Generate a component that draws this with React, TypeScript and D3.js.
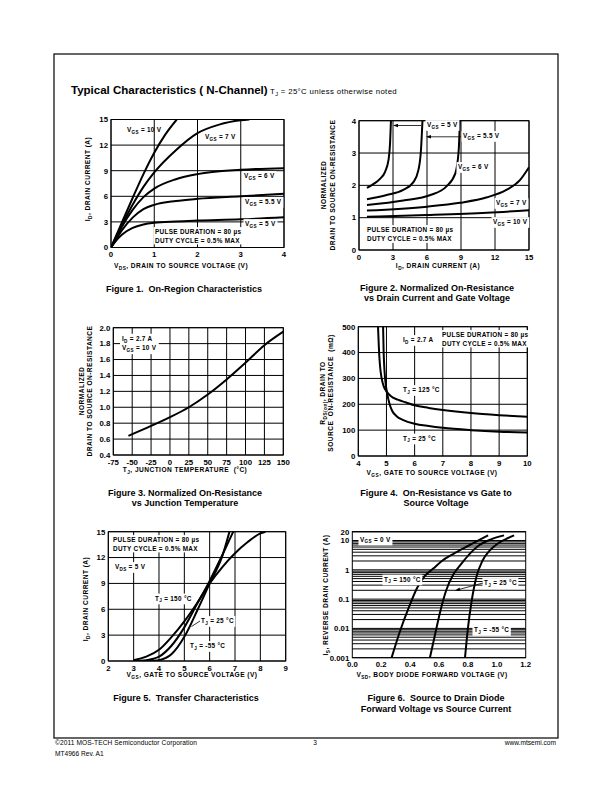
import React, { useLayoutEffect, useRef, useState } from "react";
import * as d3 from "d3";

type P = [number, number];

// ---------- Figure 1 data: On-Region Characteristics ----------
const f1XTicks = [0, 1, 2, 3, 4];
const f1YTicks = [0, 3, 6, 9, 12, 15];
const f1Vgs10: P[] = [[0, 0], [0.25, 2.9], [0.5, 5.8], [0.75, 8.6], [1, 11.1], [1.25, 13.2], [1.52, 15]];
const f1Vgs7: P[] = [[0, 0], [0.25, 2.6], [0.5, 5.0], [0.75, 7.1], [1, 8.8], [1.5, 11.4], [2, 13.4], [2.5, 14.4], [3, 14.9], [3.2, 15]];
const f1Vgs6: P[] = [[0, 0], [0.1, 0.9], [0.25, 2.4], [0.5, 4.4], [0.75, 5.9], [1, 6.9], [1.5, 8.0], [2, 8.6], [3, 9.1], [4, 9.3]];
const f1Vgs55: P[] = [[0, 0], [0.1, 0.8], [0.25, 2.0], [0.5, 3.5], [0.75, 4.5], [1, 5.0], [1.5, 5.45], [2, 5.7], [3, 6.0], [4, 6.3]];
const f1Vgs5: P[] = [[0, 0], [0.1, 0.7], [0.25, 1.5], [0.5, 2.3], [0.75, 2.7], [1, 2.9], [1.5, 3.05], [2, 3.15], [3, 3.3], [4, 3.55]];

// ---------- Figure 2 data: Normalized On-Resistance vs Drain Current ----------
const f2XTicks = [0, 3, 6, 9, 12, 15];
const f2YTicks = [0, 1, 2, 3, 4];
const f2Vgs5: P[] = [[0.7, 1.92], [1.26, 2.04], [1.85, 2.2], [2.3, 2.42], [2.6, 2.78], [2.74, 3.3], [2.82, 4]];
const f2Vgs55: P[] = [[0.7, 1.57], [2.44, 1.7], [3.9, 1.86], [4.8, 2.1], [5.24, 2.47], [5.47, 3.1], [5.6, 4]];
const f2Vgs6: P[] = [[0.7, 1.39], [3.9, 1.53], [6.3, 1.7], [7.7, 1.96], [8.5, 2.37], [8.8, 3.1], [8.9, 4]];
const f2Vgs7: P[] = [[0.7, 1.22], [6, 1.34], [8.9, 1.46], [11.3, 1.63], [13, 1.86], [14.2, 2.16], [15, 2.56]];
const f2Vgs10: P[] = [[0.7, 1.03], [6, 1.08], [11.3, 1.15], [15, 1.23]];

// ---------- Figure 3 data: Normalized On-Resistance vs Junction Temperature ----------
const f3XTicks = [-75, -50, -25, 0, 25, 50, 75, 100, 125, 150];
const f3YTicks = [0.4, 0.6, 0.8, 1.0, 1.2, 1.4, 1.6, 1.8, 2.0];
const f3Curve: P[] = [[-55, 0.64], [-25, 0.765], [0, 0.875], [25, 1.0], [50, 1.16], [75, 1.35], [100, 1.56], [125, 1.78], [150, 1.95]];

// ---------- Figure 4 data: On-Resistance vs Gate to Source Voltage ----------
const f4XTicks = [4, 5, 6, 7, 8, 9, 10];
const f4YTicks = [0, 100, 200, 300, 400, 500];
const f4Tj125: P[] = [[4.7, 500], [4.73, 420], [4.77, 350], [4.83, 300], [4.9, 270], [5.0, 250], [5.15, 232], [5.4, 218], [5.7, 207], [6, 196], [6.5, 186], [7, 178], [8, 166], [9, 158], [10, 152]];
const f4Tj25: P[] = [[4.88, 500], [4.9, 400], [4.93, 330], [4.97, 280], [5.02, 245], [5.1, 205], [5.2, 175], [5.35, 155], [5.6, 139], [6, 125], [6.5, 116], [7, 109], [8, 100], [9, 94], [10, 91]];

// ---------- Figure 5 data: Transfer Characteristics ----------
const f5XTicks = [2, 3, 4, 5, 6, 7, 8, 9];
const f5YTicks = [0, 3, 6, 9, 12, 15];
const f5Tj150: P[] = [[3, 0.1], [3.5, 0.5], [4, 1.3], [4.5, 2.8], [5, 4.6], [5.5, 6.7], [6, 9.0], [6.5, 10.9], [7, 12.5], [7.5, 13.8], [8, 14.8], [8.2, 15]];
const f5Tj25: P[] = [[3, 0.02], [3.5, 0.1], [4, 0.5], [4.5, 1.8], [5, 3.9], [5.5, 6.6], [6, 9.3], [6.5, 12.3], [6.93, 15]];
const f5TjM55: P[] = [[3.6, 0.02], [4, 0.1], [4.5, 0.8], [5, 2.8], [5.5, 5.8], [6, 9.0], [6.5, 12.2], [6.78, 15]];

// ---------- Figure 6 data: Source to Drain Diode Forward Voltage ----------
const f6XTicks = [0, 0.2, 0.4, 0.6, 0.8, 1.0, 1.2];
const f6YTicks = [0.001, 0.01, 0.1, 1, 10, 20];
const f6Tj150: P[] = [[0.272, 0.001], [0.33, 0.008], [0.39, 0.05], [0.45, 0.25], [0.5, 0.6], [0.56, 1.1], [0.62, 2], [0.7, 3.5], [0.8, 6.5], [0.94, 15]];
const f6Tj25: P[] = [[0.537, 0.001], [0.575, 0.007], [0.61, 0.04], [0.65, 0.2], [0.7, 0.7], [0.75, 1.5], [0.8, 3], [0.88, 7], [0.96, 11], [1.05, 15]];
const f6TjM55: P[] = [[0.78, 0.001], [0.8, 0.01], [0.825, 0.08], [0.86, 0.6], [0.9, 2], [0.95, 4.5], [1.0, 7.5], [1.06, 11], [1.12, 15]];

const FONT = "'Liberation Sans', Arial, Helvetica, sans-serif";

// ---------- text helpers ----------
function parseRich(t: string) {
  const out: { s: string; sub: boolean }[] = [];
  const re = /_\{([^}]*)\}/g;
  let last = 0;
  let m: RegExpExecArray | null;
  while ((m = re.exec(t))) {
    if (m.index > last) out.push({ s: t.slice(last, m.index), sub: false });
    out.push({ s: m[1], sub: true });
    last = m.index + m[0].length;
  }
  if (last < t.length) out.push({ s: t.slice(last), sub: false });
  return out;
}

function Rich({ x, y, text, size, weight = "bold", anchor = "start", rotate = false, ls = 0 }: any) {
  const parts = parseRich(text);
  const shift = size * 0.3;
  let cur = 0;
  const spans = parts.map((p, i) => {
    const target = p.sub ? shift : 0;
    const dy = target - cur;
    cur = target;
    return (
      <tspan key={i} dy={dy} fontSize={p.sub ? size * 0.72 : size}>
        {p.s}
      </tspan>
    );
  });
  const t = (
    <text x={rotate ? 0 : x} y={rotate ? 0 : y} fontFamily={FONT} fontWeight={weight} fontSize={size} textAnchor={anchor}
      letterSpacing={ls} style={{ whiteSpace: "pre" }}>
      {spans}
    </text>
  );
  if (rotate) return <g transform={`translate(${x},${y}) rotate(-90)`}>{t}</g>;
  return t;
}

function Boxed({ children, pad = 1.5 }: any) {
  const ref = useRef<SVGGElement>(null);
  const [bb, setBb] = useState<any>(null);
  useLayoutEffect(() => {
    if (ref.current) {
      const b = ref.current.getBBox();
      setBb({ x: b.x, y: b.y, w: b.width, h: b.height });
    }
  }, []);
  return (
    <g>
      {bb && <rect x={bb.x - pad} y={bb.y - pad * 0.6} width={bb.w + pad * 2} height={bb.h + pad * 1.2} fill="#fff" />}
      <g ref={ref}>{children}</g>
    </g>
  );
}

// ---------- chart frame ----------
function Chart({ id, left, right, top, bottom, xDomain, yDomain, log = false, xTicks, yTicks, xFmt, yFmt, series, vGrid = true }: any) {
  const x = d3.scaleLinear().domain(xDomain).range([left, right]);
  const y = log ? d3.scaleLog().domain(yDomain).range([bottom, top]) : d3.scaleLinear().domain(yDomain).range([bottom, top]);
  let hGrid: number[] = yTicks;
  if (log) {
    hGrid = [];
    for (let e = -3; e <= 1; e++) for (let k = 1; k <= 9; k++) {
      const v = k * Math.pow(10, e);
      if (v <= yDomain[1]) hGrid.push(v);
    }
    hGrid.push(yDomain[1]);
  }
  const line = d3.line<P>().x((d) => x(d[0])).y((d) => y(d[1])).curve(d3.curveMonotoneX);
  return (
    <g>
      <defs>
        <clipPath id={id}>
          <rect x={left} y={top} width={right - left} height={bottom - top} />
        </clipPath>
      </defs>
      {vGrid && xTicks.map((t: number, i: number) => (
        <line key={"vx" + i} x1={x(t)} x2={x(t)} y1={top} y2={bottom} stroke="#000" strokeWidth={1} />
      ))}
      {hGrid.map((t: number, i: number) => (
        <line key={"hy" + i} x1={left} x2={right} y1={y(t)} y2={y(t)} stroke="#000" strokeWidth={1} />
      ))}
      <rect x={left} y={top} width={right - left} height={bottom - top} fill="none" stroke="#000" strokeWidth={1} />
      <g clipPath={`url(#${id})`}>
        {series.map((s: P[], i: number) => (
          <path key={i} d={line(s) || ""} fill="none" stroke="#000" strokeWidth={2} />
        ))}
      </g>
      {xTicks.map((t: number, i: number) => (
        <text key={"xt" + i} x={x(t)} y={bottom + 9.5} textAnchor="middle" fontFamily={FONT} fontWeight="bold" fontSize={7.8}>
          {xFmt ? xFmt(t) : String(t)}
        </text>
      ))}
      {yTicks.map((t: number, i: number) => (
        <text key={"yt" + i} x={left - 3} y={y(t) + 2.8} textAnchor="end" fontFamily={FONT} fontWeight="bold" fontSize={7.8}>
          {yFmt ? yFmt(t) : String(t)}
        </text>
      ))}
    </g>
  );
}

const LS = 6.4; // label size
const LL = 0.3; // label letter spacing
const TS = 6.6; // axis title size
const TL = 0.45; // axis title letter spacing
const CS = 9; // caption size

function Lab(props: any) {
  return <Rich size={LS} ls={LL} {...props} />;
}
function Ttl(props: any) {
  return <Rich size={TS} ls={TL} anchor="middle" {...props} />;
}

export default function App() {
  return (
    <svg width={612} height={792} style={{ position: "absolute", left: 0, top: 0, background: "#fff" }}>
      <rect x={0} y={0} width={612} height={792} fill="#fff" />
      {/* page frame */}
      <rect x={54} y={54} width={504} height={684} fill="none" stroke="#000" strokeWidth={1.2} />
      {/* header */}
      <text x={71} y={93.5} fontFamily={FONT} fontWeight="bold" fontSize={11.5}>Typical Characteristics ( N-Channel)</text>
      <Rich x={270} y={93.5} text={"T_{J} = 25°C unless otherwise noted"} size={7.8} weight="normal" ls={0.35} />

      {/* ---------- Figure 1 ---------- */}
      <Chart id="c1" left={111} right={284} top={119.5} bottom={247.5} xDomain={[0, 4]} yDomain={[0, 15]}
        xTicks={f1XTicks} yTicks={f1YTicks} series={[f1Vgs10, f1Vgs7, f1Vgs6, f1Vgs55, f1Vgs5]} />
      <Lab x={127} y={132} text={"V_{GS} = 10 V"} />
      <Lab x={205} y={139} text={"V_{GS} = 7 V"} />
      <Boxed><Lab x={244} y={178} text={"V_{GS} = 6 V"} /></Boxed>
      <Boxed><Lab x={245} y={204} text={"V_{GS} = 5.5 V"} /></Boxed>
      <Boxed><Lab x={245} y={226} text={"V_{GS} = 5 V"} /></Boxed>
      <Boxed>
        <Lab x={155} y={234} text={"PULSE DURATION = 80 µs"} />
        <Lab x={155} y={242.5} text={"DUTY CYCLE = 0.5% MAX"} />
      </Boxed>
      <Ttl x={181} y={268} text={"V_{DS}, DRAIN TO SOURCE VOLTAGE (V)"} />
      <Ttl x={90} y={179} text={"I_{D}, DRAIN CURRENT (A)"} rotate />
      <text x={184} y={292} textAnchor="middle" fontFamily={FONT} fontWeight="bold" fontSize={CS} style={{ whiteSpace: "pre" }}>Figure 1.  On-Region Characteristics</text>

      {/* ---------- Figure 2 ---------- */}
      <Chart id="c2" left={359} right={529} top={120.7} bottom={250} xDomain={[0, 15]} yDomain={[0, 4]}
        xTicks={f2XTicks} yTicks={f2YTicks} series={[f2Vgs5, f2Vgs55, f2Vgs6, f2Vgs7, f2Vgs10]} />
      <Boxed><Lab x={427} y={127} text={"V_{GS} = 5 V"} /></Boxed>
      <Boxed><Lab x={463} y={138} text={"V_{GS} = 5.5 V"} /></Boxed>
      <Boxed><Lab x={458} y={169} text={"V_{GS} = 6 V"} /></Boxed>
      <Boxed><Lab x={496} y={205} text={"V_{GS} = 7 V"} /></Boxed>
      <Boxed><Lab x={493} y={224} text={"V_{GS} = 10 V"} /></Boxed>
      <line x1={421} y1={125.5} x2={394} y2={125.5} stroke="#000" strokeWidth={0.8} />
      <path d="M393,125.5 L398,123.7 L398,127.3 Z" fill="#000" />
      <line x1={461} y1={136.8} x2={427} y2={136.8} stroke="#000" strokeWidth={0.8} />
      <path d="M426,136.8 L431,135 L431,138.6 Z" fill="#000" />
      <Boxed>
        <Lab x={367} y={232} text={"PULSE DURATION = 80 µs"} />
        <Lab x={367} y={241} text={"DUTY CYCLE = 0.5% MAX"} />
      </Boxed>
      <Ttl x={438} y={268} text={"I_{D}, DRAIN CURRENT (A)"} />
      <Ttl x={326} y={185} text={"NORMALIZED"} rotate />
      <Ttl x={335} y={185} text={"DRAIN TO SOURCE ON-RESISTANCE"} rotate />
      <text x={437} y={291} textAnchor="middle" fontFamily={FONT} fontWeight="bold" fontSize={CS}>Figure 2. Normalized On-Resistance</text>
      <text x={437} y={301} textAnchor="middle" fontFamily={FONT} fontWeight="bold" fontSize={CS}>vs Drain Current and Gate Voltage</text>

      {/* ---------- Figure 3 ---------- */}
      <Chart id="c3" left={113.3} right={283.3} top={327.7} bottom={455} xDomain={[-75, 150]} yDomain={[0.4, 2.0]}
        xTicks={f3XTicks} yTicks={f3YTicks} yFmt={(v: number) => v.toFixed(1)} series={[f3Curve]} />
      <Boxed pad={2}>
        <Lab x={122} y={341} text={"I_{D} = 2.7 A"} />
        <Lab x={122} y={350} text={"V_{GS} = 10 V"} />
      </Boxed>
      <Ttl x={185} y={472} text={"T_{J}, JUNCTION TEMPERATURE  (°C)"} />
      <Ttl x={84} y={391} text={"NORMALIZED"} rotate />
      <Ttl x={92} y={391} text={"DRAIN TO SOURCE ON-RESISTANCE"} rotate />
      <text x={185} y={496} textAnchor="middle" fontFamily={FONT} fontWeight="bold" fontSize={CS}>Figure 3. Normalized On-Resistance</text>
      <text x={185} y={506} textAnchor="middle" fontFamily={FONT} fontWeight="bold" fontSize={CS}>vs Junction Temperature</text>

      {/* ---------- Figure 4 ---------- */}
      <Chart id="c4" left={358.3} right={527.3} top={326.7} bottom={456} xDomain={[4, 10]} yDomain={[0, 500]}
        xTicks={f4XTicks} yTicks={f4YTicks} series={[f4Tj125, f4Tj25]} />
      <Boxed><Lab x={403} y={342} text={"I_{D} = 2.7 A"} /></Boxed>
      <Boxed>
        <Lab x={442} y={337} text={"PULSE DURATION = 80 µs"} />
        <Lab x={442} y={345.5} text={"DUTY CYCLE = 0.5% MAX"} />
      </Boxed>
      <Boxed><Lab x={403} y={392} text={"T_{J} = 125 °C"} /></Boxed>
      <Boxed><Lab x={403} y={440.5} text={"T_{J} = 25 °C"} /></Boxed>
      <Ttl x={432} y={475} text={"V_{GS}, GATE TO SOURCE VOLTAGE (V)"} />
      <Ttl x={325} y={393} text={"R_{DS(on)}, DRAIN TO"} rotate />
      <Ttl x={333} y={393} text={"SOURCE  ON-RESISTANCE  (mΩ)"} rotate />
      <text x={436} y={496} textAnchor="middle" fontFamily={FONT} fontWeight="bold" fontSize={CS} style={{ whiteSpace: "pre" }}>Figure 4.  On-Resistance vs Gate to</text>
      <text x={436} y={506} textAnchor="middle" fontFamily={FONT} fontWeight="bold" fontSize={CS}>Source Voltage</text>

      {/* ---------- Figure 5 ---------- */}
      <Chart id="c5" left={108.3} right={285.7} top={531.7} bottom={661} xDomain={[2, 9]} yDomain={[0, 15]}
        xTicks={f5XTicks} yTicks={f5YTicks} series={[f5Tj150, f5Tj25, f5TjM55]} />
      <Boxed>
        <Lab x={113} y={542} text={"PULSE DURATION = 80 µs"} />
        <Lab x={113} y={550.5} text={"DUTY CYCLE = 0.5% MAX"} />
      </Boxed>
      <Boxed><Lab x={115} y={569} text={"V_{DS} = 5 V"} /></Boxed>
      <Boxed><Lab x={155} y={600.5} text={"T_{J} = 150 °C"} /></Boxed>
      <Boxed><Lab x={201} y={623} text={"T_{J} = 25 °C"} /></Boxed>
      <line x1={191.5} y1={626.5} x2={200} y2={621} stroke="#000" strokeWidth={0.8} />
      <Boxed><Lab x={190} y={648} text={"T_{J} = -55 °C"} /></Boxed>
      <Ttl x={192} y={677} text={"V_{GS}, GATE TO SOURCE VOLTAGE (V)"} />
      <Ttl x={88} y={599} text={"I_{D}, DRAIN CURRENT (A)"} rotate />
      <text x={186} y={701} textAnchor="middle" fontFamily={FONT} fontWeight="bold" fontSize={CS} style={{ whiteSpace: "pre" }}>Figure 5.  Transfer Characteristics</text>

      {/* ---------- Figure 6 ---------- */}
      <Chart id="c6" left={352.3} right={525.7} top={531.7} bottom={657.7} xDomain={[0, 1.2]} yDomain={[0.001, 20]} log
        xTicks={f6XTicks} yTicks={f6YTicks} xFmt={(v: number) => v.toFixed(1)} yFmt={(v: number) => String(v)}
        series={[f6Tj150, f6Tj25, f6TjM55]} vGrid={false} />
      <Boxed><Lab x={360} y={541.5} text={"V_{GS} = 0 V"} /></Boxed>
      <Boxed><Lab x={384} y={581.5} text={"T_{J} = 150 °C"} /></Boxed>
      <Boxed><Lab x={484} y={585} text={"T_{J} = 25 °C"} /></Boxed>
      <line x1={483} y1={583} x2={457} y2={590} stroke="#000" strokeWidth={0.8} />
      <path d="M455,590.5 L459.5,587.6 L460.4,591 Z" fill="#000" />
      <Boxed><Lab x={474} y={632} text={"T_{J} = -55 °C"} /></Boxed>
      <Ttl x={432} y={677} text={"V_{SD}, BODY DIODE FORWARD VOLTAGE (V)"} />
      <Ttl x={328} y={595} text={"I_{S}, REVERSE DRAIN CURRENT (A)"} rotate />
      <text x={436} y={701} textAnchor="middle" fontFamily={FONT} fontWeight="bold" fontSize={CS} style={{ whiteSpace: "pre" }}>Figure 6.  Source to Drain Diode</text>
      <text x={436} y={712} textAnchor="middle" fontFamily={FONT} fontWeight="bold" fontSize={CS}>Forward Voltage vs Source Current</text>

      {/* footer */}
      <text x={55} y={745} fontFamily={FONT} fontSize={6.6} letterSpacing={0.1}>©2011 MOS-TECH Semiconductor Corporation</text>
      <text x={315} y={745} fontFamily={FONT} fontSize={6.6} textAnchor="middle">3</text>
      <text x={556} y={745} fontFamily={FONT} fontSize={6.6} textAnchor="end">www.mtsemi.com</text>
      <text x={55} y={756} fontFamily={FONT} fontSize={6.6}>MT4966  Rev. A1</text>
    </svg>
  );
}
